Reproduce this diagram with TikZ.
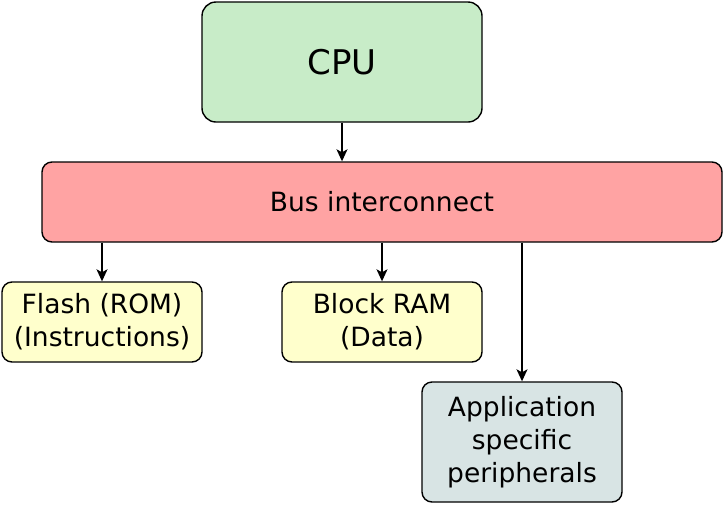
\documentclass[tikz,border=0pt]{standalone}
\usepackage{fontspec}
\setmainfont{DejaVu Sans}
\usetikzlibrary{arrows.meta}
\definecolor{cpugreen}{RGB}{200,236,200}
\definecolor{busred}{RGB}{255,163,163}
\definecolor{memyellow}{RGB}{255,255,204}
\definecolor{appgray}{RGB}{216,228,228}
\tikzset{
  box/.style={draw=black, line width=1.4pt, rounded corners=10pt, inner sep=0pt, align=center, font=\fontsize{26.5}{33}\selectfont},
  conn/.style={-{Stealth[length=12pt,width=11pt,inset=3pt]}, line width=1.4pt}
}
\begin{document}
\begin{tikzpicture}[x=1pt,y=-1pt]
\useasboundingbox (0,0) rectangle (723,504);
\node[box, fill=cpugreen, rounded corners=14pt, minimum width=280pt, minimum height=120pt, font=\fontsize{34}{40}\selectfont] (cpu) at (342,62) {CPU};
\node[box, fill=busred, minimum width=680pt, minimum height=80pt] (bus) at (382,202) {Bus interconnect};
\node[box, fill=memyellow, minimum width=200pt, minimum height=80pt] (flash) at (102,322) {Flash (ROM)\\(Instructions)};
\node[box, fill=memyellow, minimum width=200pt, minimum height=80pt] (ram) at (382,322) {Block RAM\\(Data)};
\node[box, fill=appgray, minimum width=200pt, minimum height=120pt] (app) at (522,442) {Application\\specific\\peripherals};
\draw[conn] (cpu.south) -- (bus.north -| cpu.south);
\draw[conn] (bus.south -| flash.north) -- (flash.north);
\draw[conn] (bus.south -| ram.north) -- (ram.north);
\draw[conn] (bus.south -| app.north) -- (app.north);
\end{tikzpicture}
\end{document}
